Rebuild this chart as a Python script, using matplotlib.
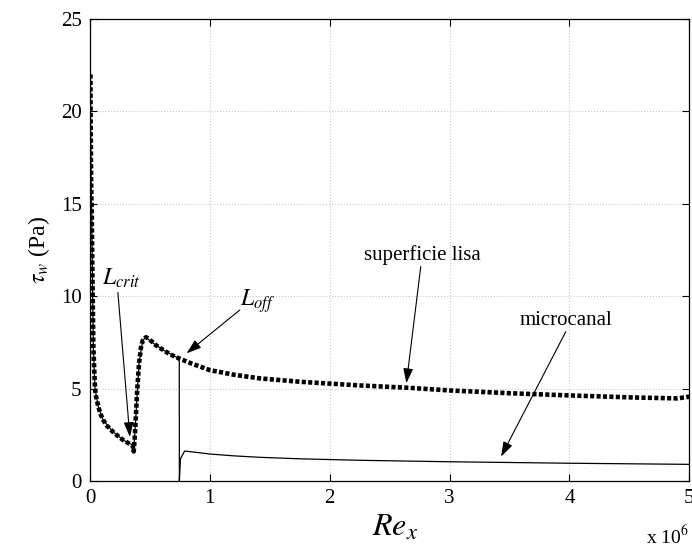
import matplotlib
matplotlib.use('Agg')
import matplotlib.pyplot as plt
import numpy as np

plt.rcParams['font.family'] = ['Liberation Serif', 'DejaVu Serif']
plt.rcParams['mathtext.fontset'] = 'stix'

# superficie lisa (dotted), Re_x in units of 1e6
re_lisa = [0.004, 0.006, 0.010, 0.015, 0.019, 0.028, 0.042, 0.05, 0.07, 0.09, 0.11, 0.14,
           0.19, 0.23, 0.28, 0.32, 0.355, 0.365, 0.375, 0.383, 0.395, 0.41, 0.425, 0.44,
           0.467, 0.49, 0.55, 0.61, 0.67, 0.74, 0.85, 1.0, 1.2, 1.42, 1.75, 2.0,
           2.25, 2.64, 3.0, 3.5, 4.0, 4.53, 4.9, 5.0]
tau_lisa = [22.0, 19.0, 16.0, 14.5, 12.0, 7.3, 5.0, 4.6, 4.0, 3.6, 3.3, 3.0,
            2.67, 2.45, 2.2, 2.05, 1.95, 1.6, 2.5, 3.5, 5.0, 6.4, 7.2, 7.6,
            7.78, 7.7, 7.35, 7.09, 6.85, 6.64, 6.35, 6.0, 5.75, 5.55, 5.37, 5.27,
            5.17, 5.05, 4.9, 4.75, 4.63, 4.52, 4.47, 4.56]

# microcanal (thin solid)
re_micro = [0.004, 0.006, 0.010, 0.015, 0.019, 0.028, 0.042, 0.07, 0.11, 0.19, 0.28, 0.355,
            0.365, 0.383, 0.41, 0.44, 0.467, 0.51, 0.61, 0.745, 0.746, 0.755, 0.79,
            0.9, 1.0, 1.2, 1.42, 1.75, 2.25, 3.0, 4.0, 5.0]
tau_micro = [22.0, 19.0, 16.0, 14.5, 12.0, 7.3, 5.0, 4.0, 3.3, 2.67, 2.2, 1.95,
             1.6, 3.5, 6.4, 7.6, 7.78, 7.54, 7.09, 6.62, 0.0, 1.2, 1.62,
             1.54, 1.46, 1.36, 1.28, 1.2, 1.12, 1.04, 0.96, 0.9]

fig = plt.figure(figsize=(6.92, 5.48), dpi=100)
ax = fig.add_axes([0.130, 0.1223, 0.866, 0.843])

ax.plot(np.array(re_micro) * 1e6, tau_micro, color='black', lw=0.9)
ax.plot(np.array(re_lisa) * 1e6, tau_lisa, color='black', lw=3.3,
        linestyle=(0, (0.9, 0.5)), dash_capstyle='butt')

ax.set_xlim(0, 5e6)
ax.set_ylim(0, 25)
ax.set_xticks(np.arange(0, 6) * 1e6)
ax.set_xticklabels([str(i) for i in range(6)])
ax.set_yticks([0, 5, 10, 15, 20, 25])
ax.grid(True, color='#c8c8c8', linestyle=':', lw=0.8)
ax.tick_params(direction='in', top=True, right=True, labelsize=15, length=5, pad=6)
for s in ax.spines.values():
    s.set_linewidth(0.9)

ax.set_xlabel(r'$Re_x$', fontsize=23)
ax.xaxis.set_label_coords(0.51, -0.07, transform=ax.transAxes)
ax.xaxis.label.set_va('top')
ax.set_ylabel(r'$\tau_w$ (Pa)', fontsize=17, labelpad=6)
ax.text(1.0, -0.095, r'x 10$^6$', transform=ax.transAxes, ha='right', va='top', fontsize=14)

arrow = dict(arrowstyle='-|>,head_length=0.6,head_width=0.2', color='black', lw=0.8,
             mutation_scale=15, shrinkA=0, shrinkB=0)
ax.annotate('', xy=(0.333e6, 2.38), xytext=(0.233e6, 10.2), arrowprops=arrow)
ax.text(0.10e6, 10.6, r'$L_{crit}$', fontsize=17)
ax.annotate('', xy=(0.806e6, 6.91), xytext=(1.25e6, 9.25), arrowprops=arrow)
ax.text(1.25e6, 9.5, r'$L_{off}$', fontsize=17)
ax.annotate('', xy=(2.64e6, 5.29), xytext=(2.76e6, 11.6), arrowprops=arrow)
ax.text(2.77e6, 11.7, 'superficie lisa', fontsize=15, ha='center', va='bottom')
ax.annotate('', xy=(3.43e6, 1.32), xytext=(3.97e6, 8.08), arrowprops=arrow)
ax.text(3.97e6, 8.15, 'microcanal', fontsize=15, ha='center', va='bottom')

fig.savefig('out.png', dpi=100)
